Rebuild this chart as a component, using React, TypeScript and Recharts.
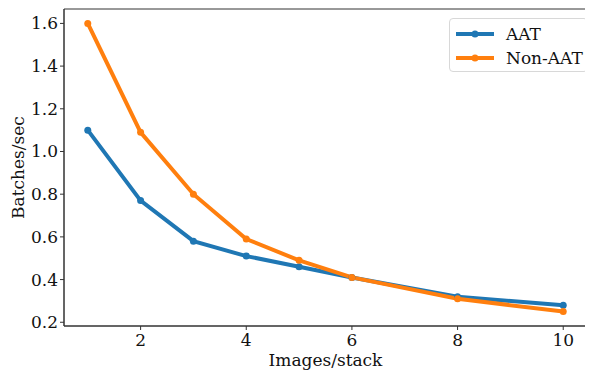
import { LineChart, Line, XAxis, YAxis, Label, ReferenceArea } from 'recharts';

const stacks = [1, 2, 3, 4, 5, 6, 8, 10];
const aat = [1.1, 0.77, 0.58, 0.51, 0.46, 0.41, 0.32, 0.28];
const nonAat = [1.6, 1.09, 0.8, 0.59, 0.49, 0.41, 0.31, 0.25];
const xTicks = [2, 4, 6, 8, 10];
const yTicks = [0.2, 0.4, 0.6, 0.8, 1.0, 1.2, 1.4, 1.6];
const seriesNames = ['AAT', 'Non-AAT'];
const seriesColors = ['#1f77b4', '#ff7f0e'];

const data = stacks.map((s, i) => ({ stack: s, aat: aat[i], nonAat: nonAat[i] }));

const font = "'DejaVu Serif', 'Liberation Serif', serif";
const textStyle = { fontFamily: font, fontSize: 17 };
const xDomain: [number, number] = [0.55, 10.45];
const yDomain: [number, number] = [0.1825, 1.6675];

const XTick = ({ x, y, payload }: any) => (
  <text x={x} y={y} dy={14} textAnchor="middle" style={textStyle} fill="#111">
    {payload.value}
  </text>
);

const YTick = ({ x, y, payload }: any) => (
  <text x={x} y={y} dy={6} textAnchor="end" style={textStyle} fill="#111">
    {Number(payload.value).toFixed(1)}
  </text>
);

const LegendBox = () => (
  <div
    style={{
      position: 'absolute',
      left: 449,
      top: 18,
      width: 139,
      height: 54,
      boxSizing: 'border-box',
      border: '1px solid #d8d8d8',
      borderRadius: 4,
      background: '#fff',
      padding: '3px 4px 0 5px',
      fontFamily: font,
      fontSize: 17,
      color: '#111',
      lineHeight: '24px',
      whiteSpace: 'nowrap',
    }}
  >
    {seriesNames.map((name, i) => (
      <div key={name} style={{ display: 'flex', alignItems: 'center' }}>
        <svg width={40} height={10} style={{ marginRight: 11, flexShrink: 0 }}>
          <line x1={1} y1={5} x2={39} y2={5} stroke={seriesColors[i]} strokeWidth={4} />
          <circle cx={20} cy={5} r={3.5} fill={seriesColors[i]} />
        </svg>
        {name}
      </div>
    ))}
  </div>
);

export default function App() {
  return (
    <div style={{ margin: '-8px -8px 0 -8px', width: 593, height: 371, background: '#fff', position: 'relative', fontFamily: font }}>
      <LineChart width={593} height={371} data={data} margin={{ top: 9, right: 6, bottom: 0, left: 0 }}>
        <XAxis
          dataKey="stack"
          type="number"
          domain={xDomain}
          ticks={xTicks}
          allowDataOverflow
          height={45}
          stroke="#333"
          tickSize={4}
          tick={<XTick />}
        >
          <Label
            content={({ viewBox }: any) => (
              <text x={viewBox.x + viewBox.width / 2} y={366} textAnchor="middle" style={textStyle} fill="#111">
                Images/stack
              </text>
            )}
          />
        </XAxis>
        <YAxis
          type="number"
          domain={yDomain}
          ticks={yTicks}
          allowDataOverflow
          width={64}
          stroke="#333"
          tickSize={4}
          tick={<YTick />}
        >
          <Label
            content={({ viewBox }: any) => {
              const cy = viewBox.y + viewBox.height / 2;
              return (
                <text x={24} y={cy} transform={`rotate(-90 24 ${cy})`} textAnchor="middle" style={textStyle} fill="#111">
                  Batches/sec
                </text>
              );
            }}
          />
        </YAxis>
        <ReferenceArea x1={xDomain[0]} x2={xDomain[1]} y1={yDomain[0]} y2={yDomain[1]} fill="none" stroke="#333" strokeWidth={1} ifOverflow="visible" />
        <Line dataKey="aat" name="AAT" stroke={seriesColors[0]} strokeWidth={4} dot={{ r: 3.5, fill: seriesColors[0], stroke: 'none' }} isAnimationActive={false} />
        <Line dataKey="nonAat" name="Non-AAT" stroke={seriesColors[1]} strokeWidth={4} dot={{ r: 3.5, fill: seriesColors[1], stroke: 'none' }} isAnimationActive={false} />
      </LineChart>
      <LegendBox />
    </div>
  );
}
